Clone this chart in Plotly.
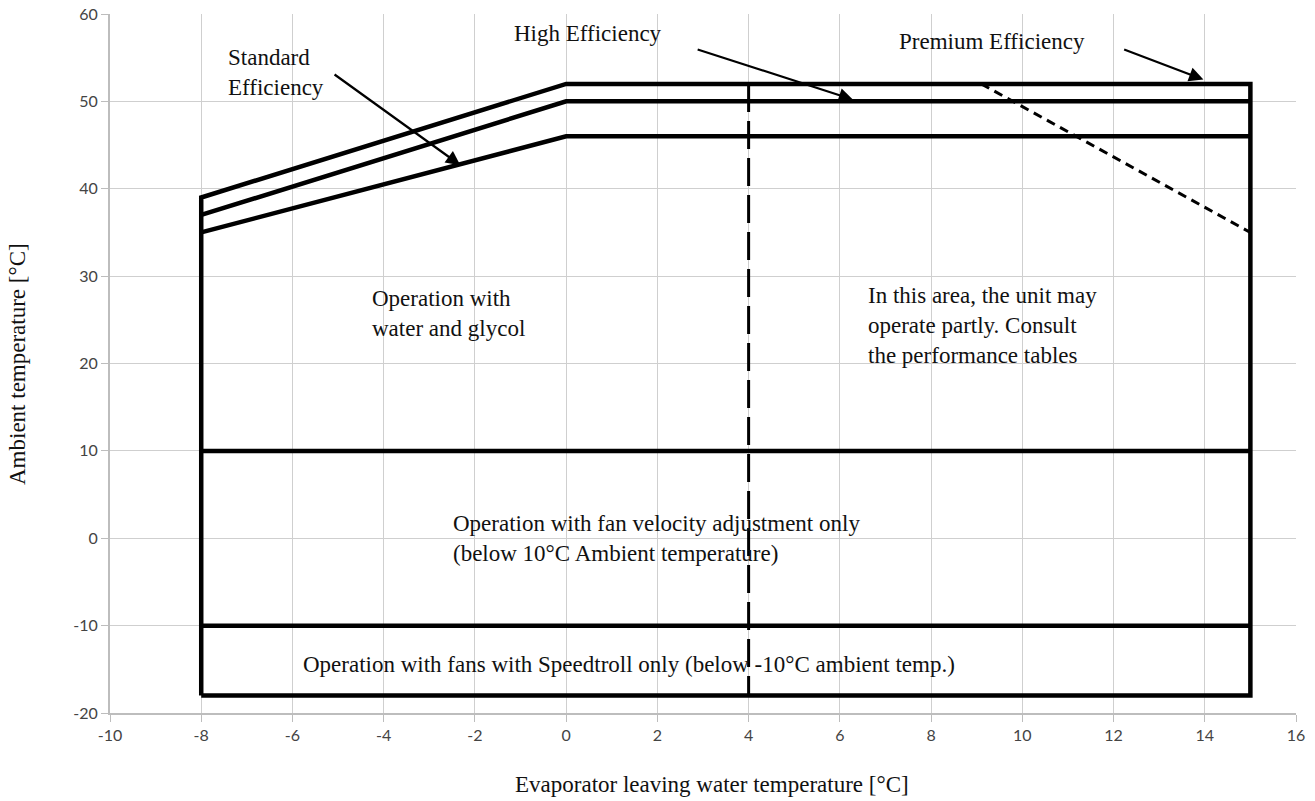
import plotly.graph_objects as go

# ---- data ----
outer_x = [-8, -8, 0, 15, 15, -8]
outer_y = [-18, 39, 52, 52, -18, -18]
high_x = [-8, 0, 15]
high_y = [37, 50, 50]
std_x = [-8, 0, 15]
std_y = [35, 46, 46]
h10_x = [-8, 15]
h10_y = [10, 10]
hm10_x = [-8, 15]
hm10_y = [-10, -10]
vdash_x = [4, 4]
vdash_y = [52, -18]
diag_x = [9.1, 15]
diag_y = [52, 35]

x_ticks = list(range(-10, 17, 2))
x_ticktext = [str(v) for v in x_ticks]
y_ticks = list(range(-20, 61, 10))
y_ticktext = [str(v) for v in y_ticks]

# arrows: labels and geometry (data coordinates)
arrow_labels = ["Standard<br>Efficiency", "High Efficiency", "Premium Efficiency"]
arrow_text_x = [-7.46, -1.18, 7.26]
arrow_text_y = [53.3, 57.8, 56.9]
arrow_tail_x = [-5.11, 2.85, 12.2]
arrow_tail_y = [53.2, 56.0, 56.0]
arrow_head_x = [-2.32, 6.29, 13.97]
arrow_head_y = [42.7, 50.2, 52.5]

# region labels
region_texts = [
    "Operation with<br>water and glycol",
    "In this area, the unit may<br>operate partly. Consult<br>the performance tables",
    "Operation with fan velocity adjustment only<br>(below 10°C Ambient temperature)",
    "Operation with fans with Speedtroll only (below -10°C ambient temp.)",
]
region_x = [-4.3, 6.58, -2.52, -5.81]
region_y = [25.7, 24.3, 0.0, -14.5]

x_title = "Evaporator leaving water temperature [°C]"
y_title = "Ambient temperature [°C]"

SERIF = "Liberation Serif"
FS = 23
fig = go.Figure()

solid = dict(color="black", width=4.5)
for xs, ys in [(outer_x, outer_y), (high_x, high_y), (std_x, std_y),
               (h10_x, h10_y), (hm10_x, hm10_y)]:
    fig.add_trace(go.Scatter(x=xs, y=ys, mode="lines", line=solid,
                             showlegend=False, hoverinfo="skip"))

fig.add_trace(go.Scatter(x=vdash_x, y=vdash_y, mode="lines",
                         line=dict(color="black", width=3, dash="28px,9px"),
                         showlegend=False, hoverinfo="skip"))
fig.add_trace(go.Scatter(x=diag_x, y=diag_y, mode="lines",
                         line=dict(color="black", width=3, dash="9px,6px"),
                         showlegend=False, hoverinfo="skip"))

for lab, tx, ty in zip(arrow_labels, arrow_text_x, arrow_text_y):
    fig.add_annotation(x=tx, y=ty, xref="x", yref="y", text=lab, showarrow=False,
                       xanchor="left", yanchor="middle", align="left",
                       font=dict(family=SERIF, size=FS, color="#111"))
for hx, hy, tx, ty in zip(arrow_head_x, arrow_head_y, arrow_tail_x, arrow_tail_y):
    fig.add_annotation(x=hx, y=hy, ax=tx, ay=ty, xref="x", yref="y",
                       axref="x", ayref="y", text="", showarrow=True,
                       arrowhead=2, arrowsize=1.3, arrowwidth=2.2, arrowcolor="black")

for t, x, y in zip(region_texts, region_x, region_y):
    fig.add_annotation(x=x, y=y, xref="x", yref="y", text=t, showarrow=False,
                       xanchor="left", yanchor="middle", align="left",
                       font=dict(family=SERIF, size=FS, color="#111"))

# axis titles
fig.add_annotation(x=0.5076, y=-0.103, xref="paper", yref="paper", text=x_title,
                   showarrow=False, xanchor="center", yanchor="middle",
                   font=dict(family=SERIF, size=FS, color="#111"))
fig.add_annotation(x=-0.078, y=0.5, xref="paper", yref="paper", text=y_title,
                   showarrow=False, xanchor="center", yanchor="middle", textangle=-90,
                   font=dict(family=SERIF, size=FS, color="#111"))

fig.update_layout(
    width=1315, height=801,
    margin=dict(l=110, r=19, t=14, b=88),
    plot_bgcolor="white", paper_bgcolor="white",
    showlegend=False,
)
tickfont = dict(family="Lato", size=16, color="#444444")
fig.update_xaxes(range=[-10, 16], tickvals=x_ticks, ticktext=x_ticktext,
                 showgrid=True, automargin=False,
                 gridcolor="#cfcfcf", gridwidth=1, zeroline=False,
                 showline=True, linecolor="#bdbdbd", linewidth=2,
                 ticks="outside", ticklen=7, tickcolor="#bdbdbd",
                 tickfont=tickfont)
fig.update_yaxes(range=[-20, 60], tickvals=y_ticks, ticktext=y_ticktext,
                 showgrid=True, automargin=False,
                 gridcolor="#cfcfcf", gridwidth=1, zeroline=False,
                 showline=True, linecolor="#bdbdbd", linewidth=2,
                 ticks="outside", ticklen=7, tickcolor="#bdbdbd",
                 tickfont=tickfont)

fig.write_html("out.html")
